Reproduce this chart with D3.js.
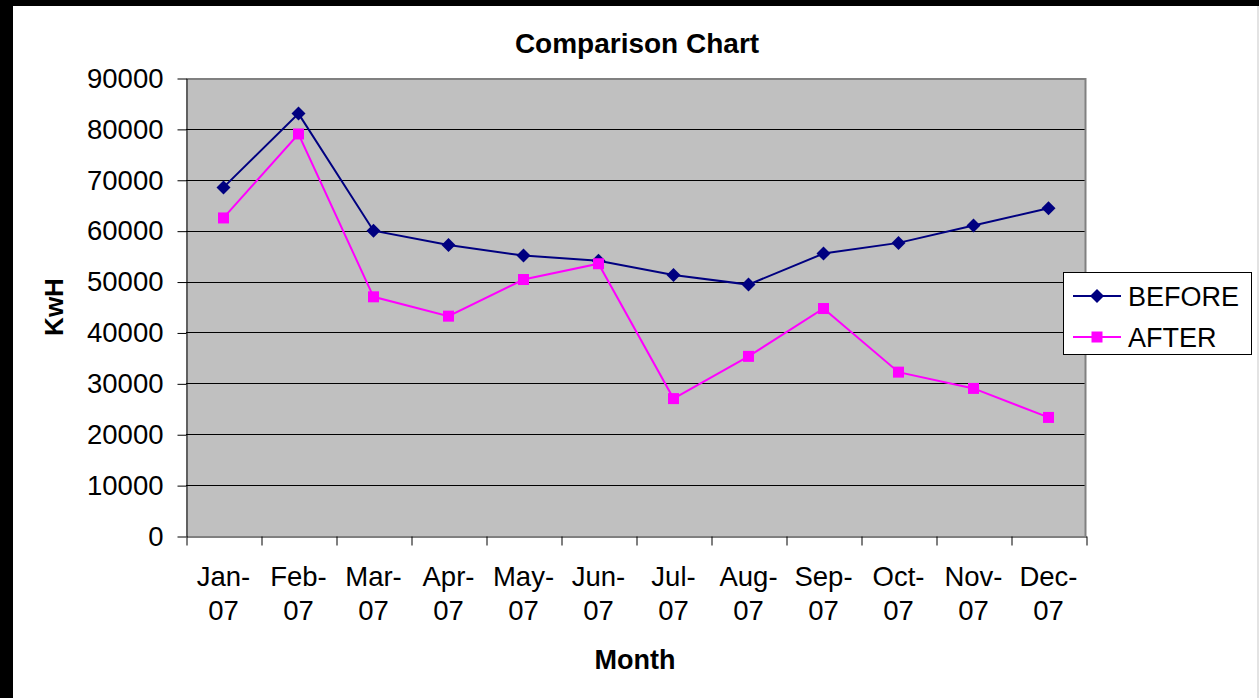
<!DOCTYPE html>
<html>
<head>
<meta charset="utf-8">
<script src="https://cdn.jsdelivr.net/npm/d3@7"></script>
<style>
  body { margin: 0; background: #fff; }
  svg { display: block; font-family: "Liberation Sans", Arial, sans-serif; }
</style>
</head>
<body>
<div id="chart"></div>
<script>
// chart data
var months = ['Jan-07', 'Feb-07', 'Mar-07', 'Apr-07', 'May-07', 'Jun-07',
              'Jul-07', 'Aug-07', 'Sep-07', 'Oct-07', 'Nov-07', 'Dec-07'];
var before = [68500, 83000, 60000, 57200, 55100, 54100, 51300, 49400, 55500, 57600, 61000, 64400];
var after = [62500, 79000, 47000, 43200, 50400, 53500, 27000, 35300, 44700, 32200, 29000, 23300];
var yTicks = [0, 10000, 20000, 30000, 40000, 50000, 60000, 70000, 80000, 90000];
var seriesNames = ['BEFORE', 'AFTER'];

var W = 1259, H = 698;
var plotL = 186, plotR = 1086, plotT = 78, plotB = 536;

var svg = d3.select('#chart').append('svg')
  .attr('width', W)
  .attr('height', H);

// screenshot frame
svg.append('rect').attr('x', 0).attr('y', 0).attr('width', W).attr('height', H).attr('fill', '#fff');
svg.append('rect').attr('x', 0).attr('y', 0).attr('width', W).attr('height', 6).attr('fill', '#000');
svg.append('rect').attr('x', 0).attr('y', 0).attr('width', 13).attr('height', H).attr('fill', '#000');
svg.append('rect').attr('x', W - 1.5).attr('y', 6).attr('width', 1).attr('height', H).attr('fill', '#c8c8c8');

var x = d3.scaleBand().domain(months).range([plotL, plotR]);
var xEdge = d3.scaleLinear().domain([0, months.length]).range([plotL, plotR]);
var y = d3.scaleLinear().domain([0, 90000]).range([plotB, plotT]);

// plot area
svg.append('rect')
  .attr('x', plotL).attr('y', plotT)
  .attr('width', plotR - plotL).attr('height', plotB - plotT)
  .attr('fill', '#c0c0c0');

// gridlines
svg.append('g')
  .selectAll('line')
  .data(yTicks.filter(function(d) { return d > 0 && d < 90000; }))
  .join('line')
  .attr('x1', plotL).attr('x2', plotR)
  .attr('y1', function(d) { return Math.round(y(d)) + 0.5; })
  .attr('y2', function(d) { return Math.round(y(d)) + 0.5; })
  .attr('stroke', '#000')
  .attr('stroke-width', 1);

// top + right border (gray)
svg.append('path')
  .attr('d', 'M' + plotL + ',' + (plotT + 1) + 'H' + (plotR - 0.5) + 'V' + plotB)
  .attr('fill', 'none')
  .attr('stroke', '#808080')
  .attr('stroke-width', 2);

// y axis
var yAxis = svg.append('g')
  .attr('transform', 'translate(' + (plotL + 0.5) + ',0.5)')
  .call(d3.axisLeft(y).tickValues(yTicks).tickFormat(d3.format('d'))
    .tickSize(9).tickPadding(14).tickSizeOuter(0));
yAxis.select('.domain').attr('stroke', '#000');
yAxis.selectAll('.tick line').attr('stroke', '#000');
yAxis.selectAll('text')
  .attr('font-size', 27.5)
  .attr('font-family', '"Liberation Sans", Arial, sans-serif')
  .attr('fill', '#000');

// x axis boundary ticks
var xAxis = svg.append('g')
  .attr('transform', 'translate(0.5,' + (plotB + 0.5) + ')')
  .call(d3.axisBottom(xEdge).tickValues(d3.range(0, months.length + 1))
    .tickSize(9).tickSizeOuter(0).tickFormat(''));
xAxis.select('.domain').attr('stroke', '#000');
xAxis.selectAll('.tick line').attr('stroke', '#000');

// x labels, two lines
var xl = svg.append('g')
  .selectAll('text')
  .data(months)
  .join('text')
  .attr('text-anchor', 'middle')
  .attr('font-size', 27.5)
  .attr('fill', '#000');
xl.append('tspan')
  .attr('x', function(d) { return x(d) + x.bandwidth() / 2; })
  .attr('y', plotB + 50)
  .text(function(d) { return d.split('-')[0] + '-'; });
xl.append('tspan')
  .attr('x', function(d) { return x(d) + x.bandwidth() / 2; })
  .attr('y', plotB + 84)
  .text(function(d) { return d.split('-')[1]; });

// lines + markers
var line = d3.line()
  .x(function(d, i) { return x(months[i]) + x.bandwidth() / 2; })
  .y(function(d) { return y(d); });

svg.append('path').datum(before)
  .attr('d', line).attr('fill', 'none')
  .attr('stroke', '#000080').attr('stroke-width', 2);
svg.append('path').datum(after)
  .attr('d', line).attr('fill', 'none')
  .attr('stroke', '#ff00ff').attr('stroke-width', 2);

var diamond = 'M0,-7L7,0L0,7L-7,0Z';

svg.append('g').selectAll('path')
  .data(before)
  .join('path')
  .attr('d', diamond)
  .attr('transform', function(d, i) {
    return 'translate(' + (x(months[i]) + x.bandwidth() / 2) + ',' + y(d) + ')';
  })
  .attr('fill', '#000080');

svg.append('g').selectAll('rect')
  .data(after)
  .join('rect')
  .attr('x', function(d, i) { return x(months[i]) + x.bandwidth() / 2 - 5.5; })
  .attr('y', function(d) { return y(d) - 5.5; })
  .attr('width', 11).attr('height', 11)
  .attr('fill', '#ff00ff');

// title + axis titles
svg.append('text')
  .attr('x', 637).attr('y', 53)
  .attr('text-anchor', 'middle')
  .attr('font-size', 28).attr('font-weight', 'bold')
  .text('Comparison Chart');

svg.append('text')
  .attr('x', 635).attr('y', 669)
  .attr('text-anchor', 'middle')
  .attr('font-size', 27).attr('font-weight', 'bold')
  .text('Month');

svg.append('text')
  .attr('transform', 'translate(63,' + ((plotT + plotB) / 2) + ') rotate(-90)')
  .attr('text-anchor', 'middle')
  .attr('font-size', 26).attr('font-weight', 'bold')
  .text('KwH');

// legend
var lg = svg.append('g');
lg.append('rect')
  .attr('x', 1063.5).attr('y', 272.5)
  .attr('width', 188).attr('height', 82)
  .attr('fill', '#fff').attr('stroke', '#000').attr('stroke-width', 1);

var colors = ['#000080', '#ff00ff'];
var items = lg.selectAll('g.item')
  .data(seriesNames)
  .join('g')
  .attr('class', 'item')
  .attr('transform', function(d, i) { return 'translate(0,' + (296 + i * 41) + ')'; });
items.append('line')
  .attr('x1', 1073).attr('x2', 1121)
  .attr('stroke', function(d, i) { return colors[i]; })
  .attr('stroke-width', 2);
items.append('path')
  .attr('d', function(d, i) { return i === 0 ? diamond : 'M-5.5,-5.5h11v11h-11Z'; })
  .attr('transform', 'translate(1097,0)')
  .attr('fill', function(d, i) { return colors[i]; });
items.append('text')
  .attr('x', 1128).attr('y', 10)
  .attr('font-size', 27)
  .text(function(d) { return d; });
</script>
</body>
</html>
